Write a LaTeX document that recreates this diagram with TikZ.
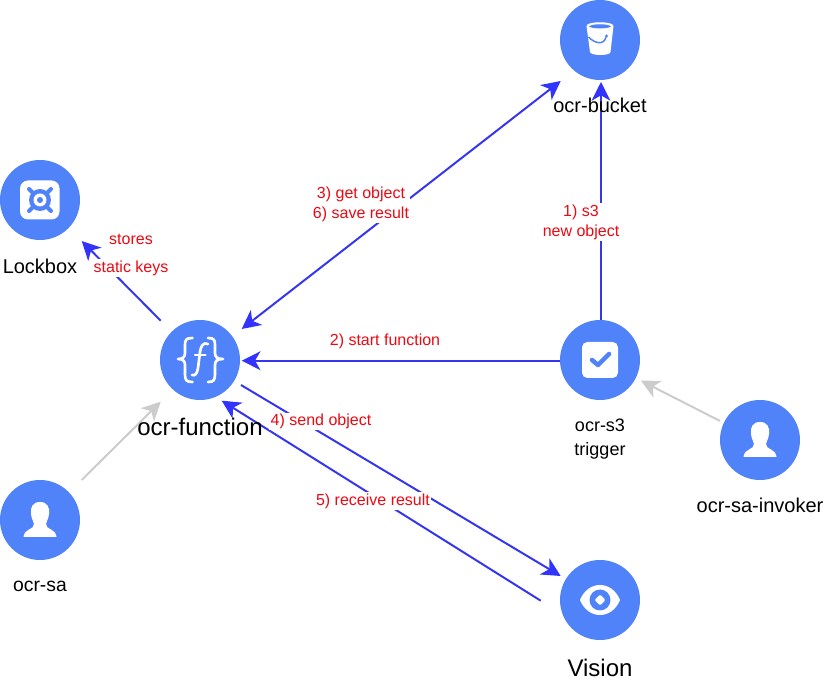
\documentclass[tikz,border=0pt]{standalone}
\usepackage{fontspec}
\setmainfont{Liberation Sans}
\usetikzlibrary{arrows.meta}
\definecolor{discblue}{HTML}{5082FA}
\definecolor{flow}{HTML}{3636EE}
\definecolor{flowtip}{HTML}{3333FF}
\definecolor{assoc}{HTML}{CCCCCC}
\definecolor{note}{HTML}{EB0A14}
\tikzset{
  x=0.75pt,y=-0.75pt,
  disc/.style={circle,fill=discblue,minimum size=60pt,inner sep=0pt,outer sep=0pt},
  name12/.style={font=\fontsize{15}{17.5}\selectfont,align=center,text=black,inner sep=0pt},
  name14/.style={font=\fontsize{18}{20}\selectfont,align=center,text=black,inner sep=0pt},
  name10/.style={font=\fontsize{13.5}{18}\selectfont,align=center,text=black,inner sep=0pt},
  flowline/.style={draw=flow,line width=1.5pt,-{Stealth[length=14pt,width=14pt,inset=4pt,color=flowtip]}},
  twoway/.style={draw=flow,line width=1.5pt,{Stealth[length=14pt,width=14pt,inset=4pt,color=flowtip]}-{Stealth[length=14pt,width=14pt,inset=4pt,color=flowtip]}},
  assocline/.style={draw=assoc,line width=1.5pt,-{Stealth[length=14pt,width=14pt,inset=4pt,color=assoc]}},
  flowlabel/.style={font=\fontsize{12}{15}\selectfont,text=note,fill=white,align=center,inner sep=1pt},
  usericon/.pic={
    \fill[white] (0,-18) .. controls (-7,-18) and (-10,-13) .. (-9,-6)
      .. controls (-8.5,-1) and (-6.5,1) .. (-6,4)
      .. controls (-6,7) and (-8,8) .. (-11,9.5)
      .. controls (-14,11) and (-16,13) .. (-16.5,17)
      -- (16.5,17)
      .. controls (16,13) and (14,11) .. (11,9.5)
      .. controls (8,8) and (6,7) .. (6,4)
      .. controls (6.5,1) and (8.5,-1) .. (9,-6)
      .. controls (10,-13) and (7,-18) .. (0,-18) -- cycle;
  },
  bucketicon/.pic={
    \fill[white] (-13.5,-14) .. controls (-13.5,-19) and (13.5,-19) .. (13.5,-14)
      -- (10.5,12) .. controls (10,16) and (-9,16) .. (-10,12) -- cycle;
    \fill[discblue] (-11,-13.5) .. controls (-8,-16.5) and (8,-16.5) .. (11,-13.5)
      .. controls (8,-11) and (-8,-11) .. (-11,-13.5) -- cycle;
    \draw[discblue,line width=1.1pt] (-11.5,-3) .. controls (-6,3) and (4,6) .. (6,-3);
    \fill[discblue] (6.5,-4) circle[radius=1.7];
  },
  safeicon/.pic={
    \fill[white,rounded corners=6pt] (-20,-19.5) rectangle (19.5,19.5);
    \draw[discblue,line width=3pt,line cap=round] (-11,-11) -- (11,11) (-11,11) -- (11,-11);
    \fill[discblue] (0,0) circle[radius=11];
    \fill[white] (0,0) circle[radius=6.5];
    \fill[discblue] (0,0) circle[radius=3];
  },
  functionicon/.pic={
    \draw[white,line width=2pt,line cap=round,line join=round]
      (-7.5,-22) .. controls (-14,-22) and (-15,-20) .. (-15,-15)
      -- (-15,-7) .. controls (-15,-3) and (-17,-1) .. (-22,-1)
      .. controls (-17,-1) and (-15,1) .. (-15,5)
      -- (-15,14) .. controls (-15,20) and (-14,22) .. (-7.5,22);
    \draw[white,line width=2pt,line cap=round,line join=round]
      (8,-22) .. controls (14,-22) and (15,-20) .. (15,-15)
      -- (15,-7) .. controls (15,-3) and (17,-1) .. (23,-1)
      .. controls (17,-1) and (15,1) .. (15,5)
      -- (15,14) .. controls (15,20) and (14,22) .. (8,22);
    \draw[white,line width=2pt,line cap=round]
      (8,-16) .. controls (3,-18) and (1,-14) .. (0,-8)
      -- (-2,8) .. controls (-3,14) and (-5,16) .. (-8,15);
    \draw[white,line width=1.7pt,line cap=round] (-5,-5) -- (5.5,-5);
  },
  triggericon/.pic={
    \fill[white,rounded corners=4pt] (-18,-18) rectangle (18,18);
    \draw[discblue,line width=3.4pt,line cap=round,line join=round] (-8,0) -- (-2,5) -- (9,-6);
  },
  visionicon/.pic={
    \fill[white] (-20,0) .. controls (-12,-20) and (12,-20) .. (20,0)
      .. controls (12,20) and (-12,20) .. (-20,0) -- cycle;
    \fill[discblue] (0,0) circle[radius=10.5];
    \fill[white,rounded corners=1pt] (-5.5,0) -- (0,-5.5) -- (5.5,0) -- (0,5.5) -- cycle;
  }
}
\begin{document}
\begin{tikzpicture}
\useasboundingbox (0,0) rectangle (826,684);
% discs
\node[disc] (bucket) at (600,40) {};
\node[disc] (lockbox) at (40,200) {};
\node[disc] (func) at (200,360) {};
\node[disc] (trigger) at (600,360) {};
\node[disc] (invoker) at (760,440) {};
\node[disc] (sa) at (40,520) {};
\node[disc] (vision) at (600,600) {};
% icons
\pic at (bucket) {bucketicon};
\pic at (lockbox) {safeicon};
\pic at (func) {functionicon};
\pic at (trigger) {triggericon};
\pic at (invoker) {usericon};
\pic at (sa) {usericon};
\pic at (vision) {visionicon};
% connector ends
\path (bucket) ++(-39.3,41) coordinate (bucketFree);
\path (bucket) ++(1,42) coordinate (bucketTop);
\path (trigger) ++(1,-40) coordinate (triggerUp);
\path (trigger) ++(-40,0.7) coordinate (triggerLeft);
\path (func) ++(41.7,0.7) coordinate (funcRight);
\path (func) ++(41.7,-31) coordinate (funcBucket);
\path (func) ++(-39.3,-39.3) coordinate (funcLock);
\path (lockbox) ++(41.7,41) coordinate (lockTip);
\path (func) ++(41,25) coordinate (funcSend);
\path (vision) ++(-39.3,-24) coordinate (visionTip);
\path (vision) ++(-59.3,0.7) coordinate (visionBack);
\path (func) ++(21.7,40.7) coordinate (funcRecv);
\path (sa) ++(41.7,-40) coordinate (saOut);
\path (func) ++(-39.3,41.7) coordinate (funcSa);
\path (invoker) ++(-40,-19) coordinate (invOut);
\path (trigger) ++(41,20.7) coordinate (triggerInv);
% connectors
\draw[flowline] (triggerUp) -- (bucketTop);
\draw[twoway] (bucketFree) -- (funcBucket);
\draw[flowline] (triggerLeft) -- (funcRight);
\draw[flowline] (funcSend) -- (visionTip);
\draw[flowline] (visionBack) -- (funcRecv);
\draw[flowline] (funcLock) -- (lockTip);
\draw[assocline] (saOut) -- (funcSa);
\draw[assocline] (invOut) -- (triggerInv);
% flow labels
\node[flowlabel] (l1) at (581,222) {1) s3\\new object};
\node[flowlabel] (l2) at (385,341) {2) start function};
\node[flowlabel] (l3) at (361,204) {3) get object\\6) save result};
\node[flowlabel] (l4) at (321,421.5) {4) send object};
\node[flowlabel] (l5) at (373,501) {5) receive result};
\node[flowlabel] (l6) at (131,239.5) {stores};
\node[flowlabel] (l7) at (131,268) {static keys};
% names
\node[name12] (nbucket) at (600,105) {ocr-bucket};
\node[name12] (nlock) at (40,266) {Lockbox};
\node[name14] (nfunc) at (200,427) {ocr-function};
\node[name10] (ntrig) at (600,439.5) {ocr-s3\\trigger};
\node[name12] (ninv) at (760,505) {ocr-sa-invoker};
\node[name10,font=\fontsize{14.5}{18}\selectfont] (nsa) at (40,586) {ocr-sa};
\node[name14] (nvis) at (600,668) {Vision};
\end{tikzpicture}
\end{document}
